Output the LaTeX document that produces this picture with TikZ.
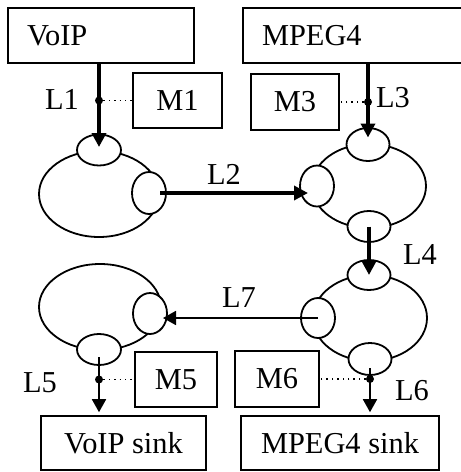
\documentclass[tikz,border=0pt]{standalone}
\usepackage{fontspec}
\setmainfont{Liberation Serif}
\usetikzlibrary{shapes,arrows.meta,positioning,calc}

\begin{document}
\begin{tikzpicture}[
    x=0.5pt, y=-0.5pt,
    font=\fontsize{15.2}{18}\selectfont,
    box/.style={draw,line width=0.8pt,inner sep=0pt},
    router/.style={draw,ellipse,line width=0.9pt,fill=white,inner sep=0pt},
    port/.style={draw,ellipse,line width=0.9pt,fill=white,inner sep=0pt},
    biglink/.style={-{Triangle[length=7pt,width=7pt]},line width=2pt},
    smalllink/.style={-{Triangle[length=6.5pt,width=7pt]},line width=0.9pt},
    probe/.style={dotted,line width=0.7pt},
    tap/.style={circle,fill,inner sep=0pt,minimum size=4pt},
    lbl/.style={inner sep=0pt},
]
\useasboundingbox (0,0) rectangle (461,472);

% Sources
\node[box,minimum width=93pt,minimum height=27.5pt,text width=74pt,inner xsep=9.5pt,align=left] (voip) at (101,35.5) {VoIP};
\node[box,minimum width=110pt,minimum height=27.5pt,text width=91pt,inner xsep=9.5pt,align=left] (mpeg) at (353,35.5) {MPEG4};

% Monitors
\node[box,minimum width=44.5pt,minimum height=27.5pt] (m1) at (177.5,100.5) {M1};
\node[box,minimum width=44pt,minimum height=28pt] (m3) at (295,102) {M3};
\node[box,minimum width=41pt,minimum height=27.5pt] (m5) at (176,379.5) {M5};
\node[box,minimum width=42pt,minimum height=28pt] (m6) at (277,379) {M6};

% Sinks
\node[box,minimum width=82.5pt,minimum height=27pt] (voipsink) at (123.5,443) {VoIP sink};
\node[box,minimum width=99pt,minimum height=27pt] (mpegsink) at (340,443) {MPEG4 sink};

% Routers
\node[router,minimum width=60pt,minimum height=43pt] (r1) at (99,194) {};
\node[port,minimum width=22pt,minimum height=15.5pt] (r1t) at (99,150) {};
\node[port,minimum width=17pt,minimum height=21pt] (r1r) at (149,193) {};

\node[router,minimum width=57pt,minimum height=42pt] (r2) at (369,186) {};
\node[port,minimum width=21.5pt,minimum height=16.5pt] (r2t) at (368,144.5) {};
\node[port,minimum width=17pt,minimum height=20.5pt] (r2l) at (317,186) {};
\node[port,minimum width=21.5pt,minimum height=15.5pt] (r2b) at (369,226.5) {};

\node[router,minimum width=57pt,minimum height=43pt] (r3) at (370,318) {};
\node[port,minimum width=21.5pt,minimum height=15pt] (r3t) at (369,275) {};
\node[port,minimum width=17pt,minimum height=20pt] (r3l) at (318,318) {};
\node[port,minimum width=21.5pt,minimum height=16pt] (r3b) at (370,359) {};

\node[router,minimum width=61pt,minimum height=43pt] (r4) at (100,307) {};
\node[port,minimum width=17pt,minimum height=20.5pt] (r4r) at (150,313.5) {};
\node[port,minimum width=22pt,minimum height=15.5pt] (r4b) at (99,349.5) {};

% Links
\draw[biglink,shorten >=1.5pt] (voip.south -| r1t) -- (r1t.center);
\draw[biglink,shorten <=5.5pt,shorten >=4.5pt] (r1r.center) -- (r1r.center -| r2l.center);
\draw[biglink,shorten >=3.5pt] (mpeg.south -| r2t) -- (r2t.center);
\draw[biglink] (r2b.center) -- (r3t.center);
\draw[smalllink,shorten >=6.5pt] (r3l.center) -- (r3l.center -| r4r.center);
\draw[smalllink,shorten <=3.75pt,shorten >=1.5pt] (r4b.center) -- (r4b |- voipsink.north);
\draw[smalllink,shorten <=4.5pt,shorten >=1.5pt] (r3b.center) -- (r3b |- mpegsink.north);

% Monitoring taps
\node[tap] (t1) at (r1t |- m1.west) {};
\node[tap] (t3) at (r2t |- m3.west) {};
\node[tap] (t5) at (r4b |- m5.west) {};
\node[tap] (t6) at (r3b |- m6.west) {};
\draw[probe] (t1) -- (m1.west);
\draw[probe] (t3) -- (m3.east);
\draw[probe] (t5) -- (m5.west);
\draw[probe] (t6) -- (m6.east);

% Link labels
\node[lbl] (l1) at (62,99) {L1};
\node[lbl] (l2) at (224,174) {L2};
\node[lbl] (l3) at (393,98) {L3};
\node[lbl] (l4) at (420,254) {L4};
\node[lbl] (l5) at (40,383) {L5};
\node[lbl] (l6) at (412,391) {L6};
\node[lbl] (l7) at (239,298) {L7};

\end{tikzpicture}
\end{document}
